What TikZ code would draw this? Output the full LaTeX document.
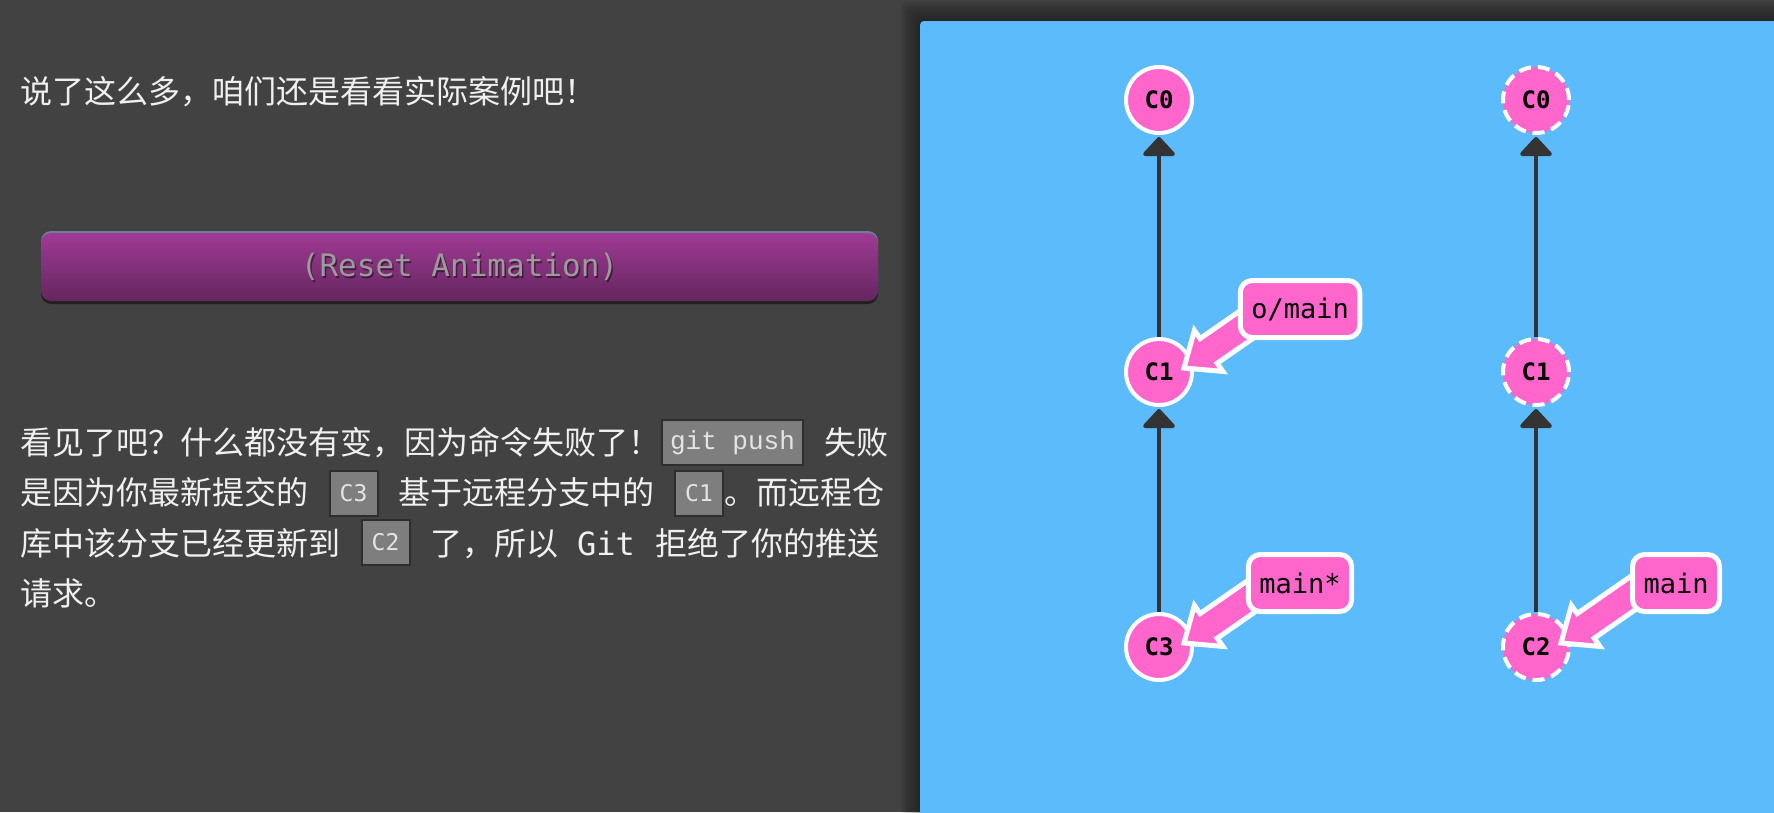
\documentclass[tikz,border=0pt]{standalone}
\usepackage{fontspec}
\setmainfont{Noto Sans CJK SC}
\newfontfamily\dvmono{DejaVu Sans Mono}
\newfontfamily\lbmono{Liberation Mono}
\usetikzlibrary{arrows.meta,calc}

\definecolor{bgc}{RGB}{66,66,66}
\definecolor{panelc}{RGB}{92,187,250}
\definecolor{pinkc}{RGB}{255,102,204}
\definecolor{edgec}{RGB}{51,51,51}
\definecolor{txtc}{RGB}{240,240,240}
\definecolor{codebg}{RGB}{126,126,126}
\definecolor{codebd}{RGB}{46,46,46}
\definecolor{codetxt}{RGB}{228,228,228}
\definecolor{btntop}{RGB}{160,58,148}
\definecolor{btnbot}{RGB}{100,38,95}
\definecolor{btnline}{RGB}{110,125,155}
\definecolor{btntxt}{RGB}{155,155,155}

\tikzset{
 commit/.style={circle, fill=pinkc, draw=white, line width=4pt, minimum size=66pt, inner sep=0pt,
   font=\dvmono\bfseries\fontsize{24}{24}\selectfont, text=black},
 ghost/.style={commit, dash pattern=on 12pt off 7pt},
 parentedge/.style={draw=edgec, line width=4pt, -{Triangle[length=20pt,width=36pt,round]}, shorten >=2pt},
 branch/.style={rounded corners=12pt, fill=pinkc, draw=white, line width=5pt, minimum height=57pt,
   inner xsep=11pt, inner ysep=0pt, font=\dvmono\fontsize{27}{27}\selectfont, text=black},
 fatarrow/.style={fill=pinkc, draw=white, line width=5pt, line join=miter},
 para/.style={anchor=base west, inner sep=0pt, text=txtc, font=\fontsize{32}{32}\selectfont},
 codebox/.style={fill=codebg, draw=codebd, line width=2pt, inner sep=0pt, text=codetxt,
   minimum height=45pt},
}

\newcommand\brancharrow[1]{%
  \path[fatarrow] (#1) -- ($(#1)+(10.4,-37.6)$) -- ($(#1)+(16.1,-29.4)$) -- ($(#1)+(73.6,-69.3)$)
    -- ($(#1)+(90.7,-44.7)$) -- ($(#1)+(33.2,-4.8)$) -- ($(#1)+(38.9,3.4)$) -- cycle;}

\begin{document}
\begin{tikzpicture}[x=1pt,y=-1pt]
\useasboundingbox (0,0) rectangle (1774,812);
\fill[bgc] (0,0) rectangle (1774,812);

% ---- left text column ----
\node[para] (t1) at (20,103) {说了这么多，咱们还是看看实际案例吧！};

\fill[black, opacity=0.5, rounded corners=10pt] (41,236) rectangle (878,304);
\fill[btnline, rounded corners=10pt] (41,231) rectangle (878,299);
\shade[top color=btntop, bottom color=btnbot, rounded corners=10pt] (41,233) rectangle (878,301);
\node[font=\dvmono\fontsize{31}{31}\selectfont, text=black, opacity=0.45] (btnsh) at (461,269) {(Reset Animation)};
\node[font=\dvmono\fontsize{31}{31}\selectfont, text=btntxt] (btn) at (459.5,267) {(Reset Animation)};

\node[para] (a1) at (20,454) {看见了吧？什么都没有变，因为命令失败了！};
\node[codebox, minimum width=141pt, font=\lbmono\fontsize{26}{26}\selectfont] (gp) at (732.5,442.5) {git push};
\node[para] (a2) at (824,454) {失败};

\node[para] (b1) at (20,504) {是因为你最新提交的};
\node[codebox, minimum width=48pt, font=\dvmono\fontsize{23}{23}\selectfont] (k3) at (353.5,493) {C3};
\node[para] (b2) at (398,504) {基于远程分支中的};
\node[codebox, minimum width=48pt, font=\dvmono\fontsize{23}{23}\selectfont] (k1) at (699,493) {C1};
\node[para] (b3) at (724,504) {。而远程仓};

\node[para] (c1t) at (20,555) {库中该分支已经更新到};
\node[codebox, minimum width=48pt, font=\dvmono\fontsize{23}{23}\selectfont] (k2) at (385.5,542.5) {C2};
\node[para] (c2t) at (430,555) {了，所以};
\node[para, font=\dvmono\fontsize{32}{32}\selectfont] (c3t) at (577,555) {Git};
\node[para] (c4t) at (655,555) {拒绝了你的推送};

\node[para] (d1) at (20,605) {请求。};

% ---- panel ----
\foreach \i in {1,...,20} {
  \fill[black, opacity=0.02, rounded corners=6pt] (920-\i,21-\i) rectangle (1790,830);
}
\fill[panelc, rounded corners=4pt] (920,21) rectangle (1790,830);

% commits
\node[commit] (l0) at (1159,100) {C0};
\node[commit] (l1) at (1159,372) {C1};
\node[commit] (l3) at (1159,647) {C3};
\node[ghost] (r0) at (1536,100) {C0};
\node[ghost] (r1) at (1536,372) {C1};
\node[ghost] (r2) at (1536,647) {C2};

% parent edges
\draw[parentedge] (l1) -- (l0);
\draw[parentedge] (l3) -- (l1);
\draw[parentedge] (r1) -- (r0);
\draw[parentedge] (r2) -- (r1);

% branch arrows
\coordinate (tipa) at ($(l1.center)+(25,-4)$);
\coordinate (tipb) at ($(l3.center)+(25,-4)$);
\coordinate (tipc) at ($(r2.center)+(25,-4)$);
\brancharrow{tipa}
\brancharrow{tipb}
\brancharrow{tipc}

% branch labels
\node[branch] (omain) at ($(l1.center)+(141,-63)$) {o/main};
\node[branch] (lmain) at ($(l3.center)+(141,-64)$) {main*};
\node[branch] (rmain) at ($(r2.center)+(140,-64)$) {main};
\end{tikzpicture}
\end{document}
